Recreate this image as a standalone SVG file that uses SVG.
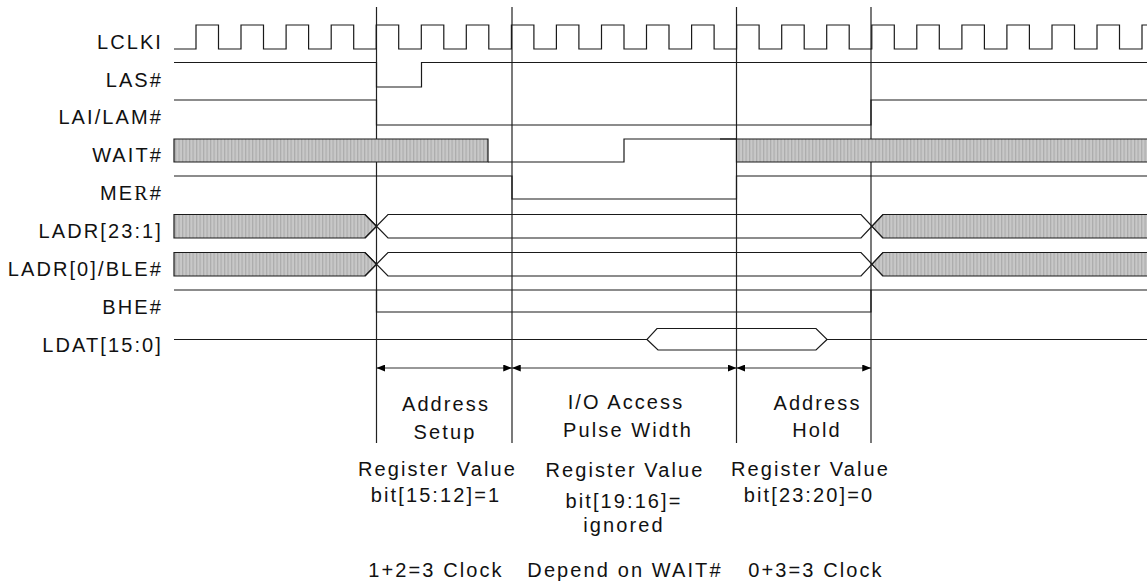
<svg xmlns="http://www.w3.org/2000/svg" width="1147" height="582" viewBox="0 0 1147 582">
<style>
.sig{fill:none;stroke:#1a1a1a;stroke-width:1.2}
.hat{fill:url(#hatch);stroke:#1a1a1a;stroke-width:1.2}
.lbl{font-family:"Liberation Sans",Arial,sans-serif;font-size:20px;letter-spacing:2.1px;fill:#111;text-anchor:end}
.txt{font-family:"Liberation Sans",Arial,sans-serif;font-size:20px;letter-spacing:2.1px;fill:#111;text-anchor:middle}
.vl{stroke:#222;stroke-width:1.2;fill:none}
.dim{stroke:#333;stroke-width:1.2;fill:none;marker-start:url(#ah);marker-end:url(#ah)}
</style>
<defs>
<pattern id="hatch" width="3.5" height="10" patternUnits="userSpaceOnUse">
<rect width="3.5" height="10" fill="#c8c8c8"/>
<rect width="1.2" height="10" fill="#acacac"/>
</pattern>
<marker id="ah" viewBox="0 0 10 8" refX="10" refY="4" markerWidth="9" markerHeight="7" markerUnits="userSpaceOnUse" orient="auto-start-reverse">
<path d="M0,0 L10,4 L0,8 Z" fill="#000"/>
</marker>
</defs>

<g id="markers">
<path class="vl" d="M376.5,7 V443 M512,7 V443 M736.5,7 V443 M871,7 V443"/>
</g>

<g id="LCLKI">
<text class="lbl" x="163" y="48.5">LCLKI</text>
<path class="sig" d="M174,49 H196 V25 H218.5 V49 H241 V25 H263.5 V49 H286.1 V25 H308.6 V49 H331.2 V25 H353.7 V49 H376.2 V25 H398.7 V49 H421.3 V25 H443.8 V49 H466.3 V25 H488.8 V49 H511.4 V25 H533.9 V49 H556.4 V25 H578.9 V49 H601.5 V25 H624 V49 H646.5 V25 H669 V49 H691.6 V25 H714.1 V49 H736.6 V25 H759.1 V49 H781.7 V25 H804.2 V49 H826.7 V25 H849.2 V49 H871.8 V25 H894.3 V49 H916.8 V25 H939.3 V49 H961.9 V25 H984.4 V49 H1006.9 V25 H1029.4 V49 H1052 V25 H1074.5 V49 H1097 V25 H1119.5 V49 H1142 V25 H1147"/>
</g>

<g id="LAS">
<text class="lbl" x="163" y="87">LAS#</text>
<path class="sig" d="M174,62.5 H376.5 V87 H421.5 V62.5 H1147"/>
</g>

<g id="LAI_LAM">
<text class="lbl" x="163" y="124">LAI/LAM#</text>
<path class="sig" d="M174,100 H376.5 V125 H871 V100 H1147"/>
</g>

<g id="WAIT">
<text class="lbl" x="163" y="161.5">WAIT#</text>
<path class="hat" d="M174,139 H488 V162 H174 Z"/>
<path class="sig" d="M488,162 H624 V139 H736.5"/>
<path class="sig" d="M720,139 H736" stroke-width="2.5"/>
<path class="hat" d="M1147,139 H736.5 V162 H1147"/>
</g>

<g id="MER">
<text class="lbl" x="163" y="200">ME<tspan font-family="'Liberation Serif',serif">R</tspan>#</text>
<path class="sig" d="M174,176 H512 V199 H736.5 V176 H1147"/>
</g>

<g id="LADR23_1">
<text class="lbl" x="163" y="238">LADR[23:1]</text>
<path class="hat" d="M174,214.5 H365 L376.5,226.3 L365,238 H174 Z"/>
<path class="sig" d="M365,238 L388,214.5 H861 L883,238 M365,214.5 L388,238 H861 L883,214.5"/>
<path class="hat" d="M1147,214.5 H883 L872,226.3 L883,238 H1147"/>
</g>

<g id="LADR0_BLE">
<text class="lbl" x="163" y="276">LADR[0]/BLE#</text>
<path class="hat" d="M174,252.5 H365 L376.5,264.3 L365,276 H174 Z"/>
<path class="sig" d="M365,276 L388,252.5 H861 L883,276 M365,252.5 L388,276 H861 L883,252.5"/>
<path class="hat" d="M1147,252.5 H883 L872,264.3 L883,276 H1147"/>
</g>

<g id="BHE">
<text class="lbl" x="163" y="314">BHE#</text>
<path class="sig" d="M174,290 H1147 M376.5,290 V312 H871 V290"/>
</g>

<g id="LDAT">
<text class="lbl" x="163" y="351.5">LDAT[15:0]</text>
<path class="sig" d="M174,339.5 H647 L657,328.5 H816 L827,339.5 H1147 M647,339.5 L658,350 H816 L827,339.5"/>
</g>

<g id="connectors">
<path class="dim" d="M376.5,368 H512"/>
<path class="dim" d="M512,368 H736.5"/>
<path class="dim" d="M736.5,368 H871"/>
</g>

<g id="setup">
<text class="txt" x="446" y="410.5">Address</text>
<text class="txt" x="445" y="439">Setup</text>
<text class="txt" x="437.5" y="476">Register Value</text>
<text class="txt" x="436" y="501.5">bit[15:12]=1</text>
<text class="txt" x="436" y="576.5">1+2=3 Clock</text>
</g>

<g id="pulse">
<text class="txt" x="626" y="408.5">I/O Access</text>
<text class="txt" x="628" y="436.5">Pulse Width</text>
<text class="txt" x="625" y="477">Register Value</text>
<text class="txt" x="624" y="508">bit[19:16]=</text>
<text class="txt" x="624" y="531.5">ignored</text>
<text class="txt" x="625" y="576.5">Depend on WAIT#</text>
</g>

<g id="hold">
<text class="txt" x="817.5" y="409.5">Address</text>
<text class="txt" x="817" y="436.5">Hold</text>
<text class="txt" x="810.5" y="476">Register Value</text>
<text class="txt" x="809" y="501.5">bit[23:20]=0</text>
<text class="txt" x="816" y="576.5">0+3=3 Clock</text>
</g>
</svg>
